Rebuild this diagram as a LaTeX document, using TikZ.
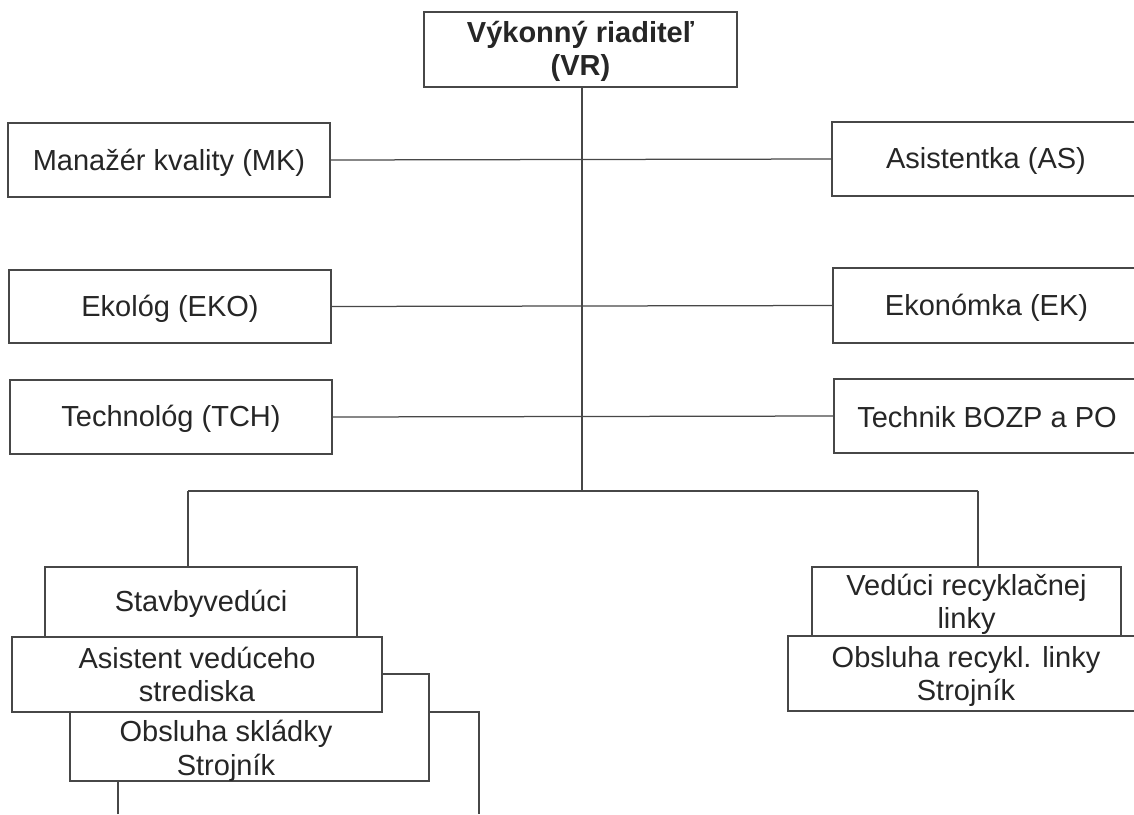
\documentclass[tikz,border=0pt]{standalone}
\usepackage{fontspec}
\setmainfont{Liberation Sans}
\tikzset{
  x=1pt,y=-1pt,
  line/.style={draw=black!72,line width=1.25pt},
  box/.style={line,fill=white,rectangle,inner sep=0pt,outer sep=0pt},
  lbl/.style={inner sep=0pt,outer sep=0pt,align=center,text=black!85,font=\fontsize{29}{33.5}\selectfont},
}
% name, left, top, right, bottom, text shift downward, text
\newcommand{\boxat}[7]{\node[box,minimum width=#4pt-#2pt,minimum height=#5pt-#3pt,anchor=north west,
  label={[lbl,yshift=-#6pt]center:{#7}}] (#1) at (#2,#3) {};}
\begin{document}
\begin{tikzpicture}
\useasboundingbox (0,0) rectangle (1134,814);
\coordinate (bus) at (582,491);
\coordinate (bl) at (188,491);
\coordinate (br) at (978,491);
\coordinate (o1) at (118,814);
\coordinate (o2) at (479,814);
\coordinate (o3) at (479,712);
\draw[line] (bl) -- (br);
\draw[line] (o1) |- (o3) -- (o2);
\boxat{vr}{424}{12}{737}{87}{2}{\textbf{Výkonný riaditeľ}\\\textbf{(VR)}}
\boxat{mk}{8}{123}{330}{197}{3}{Manažér kvality (MK)}
\boxat{eko}{9}{270}{331}{343}{2}{Ekológ (EKO)}
\boxat{tch}{10}{380}{332}{454}{2}{Technológ (TCH)}
\boxat{as}{832}{122}{1140}{196}{2}{Asistentka (AS)}
\boxat{ek}{833}{268}{1140}{343}{2}{Ekonómka (EK)}
\boxat{bozp}{834}{379}{1140}{453}{1}{Technik BOZP a PO}
\draw[line] (mk.east) -- (as.west);
\draw[line] (eko.east) -- (ek.west);
\draw[line] (tch.east) -- (bozp.west);
\draw[line] (vr.south -| bus) -- (bus);
\boxat{sv}{45}{567}{357}{637}{2}{Stavbyvedúci}
\draw[line] (bl) -- (sv.north -| bl);
\boxat{ob}{70}{674}{429}{781}{0}{}
\node[lbl] (obt) at (226,751) {Obsluha skládky\\Strojník};
\boxat{as2}{12}{637}{382}{712}{0}{Asistent vedúceho\\strediska}
\boxat{orl}{788}{636}{1144}{711}{3}{Obsluha recykl. linky\\Strojník}
\boxat{vl}{812}{567}{1121}{636}{3}{Vedúci recyklačnej\\linky}
\draw[line] (br) -- (vl.north -| br);
\end{tikzpicture}
\end{document}
